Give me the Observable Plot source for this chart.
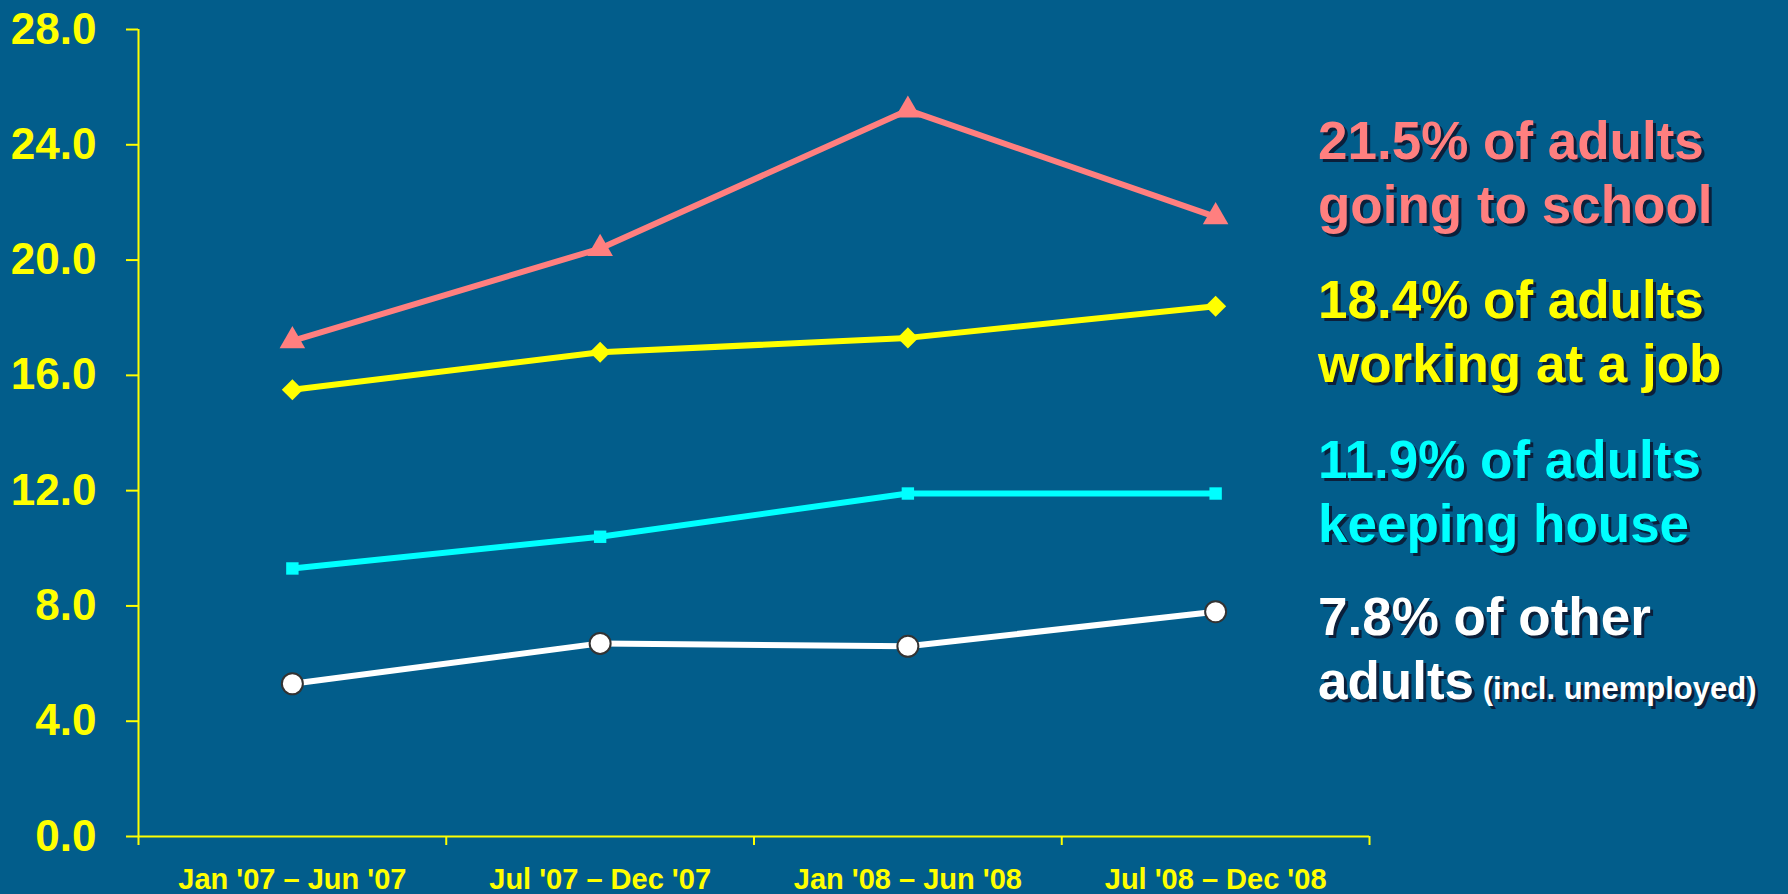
<!DOCTYPE html>
<html>
<head>
<meta charset="utf-8">
<script src="https://cdn.jsdelivr.net/npm/d3@7"></script>
<script src="https://cdn.jsdelivr.net/npm/@observablehq/plot@0.6"></script>
<style>
  html, body { margin: 0; padding: 0; background: #025d8b; }
  #wrap { position: relative; width: 1788px; height: 894px; overflow: hidden; }
  #legend { position: absolute; left: 1318px; top: 0; font-family: "Liberation Sans", Arial, sans-serif; font-weight: bold; }
  .blk { position: absolute; left: 0; white-space: nowrap; font-size: 53px; line-height: 64px; text-shadow: 3px 3px 0 #0b1f3a; }
  .small { font-size: 31px; }
</style>
</head>
<body>
<div id="wrap"><div id="chart"></div><div id="legend"></div></div>
<script>
const periods = ["Jan '07 – Jun '07", "Jul '07 – Dec '07", "Jan '08 – Jun '08", "Jul '08 – Dec '08"];
const school = [17.2, 20.4, 25.2, 21.5];
const job = [15.5, 16.8, 17.3, 18.4];
const house = [9.3, 10.4, 11.9, 11.9];
const other = [5.3, 6.7, 6.6, 7.8];
const yTicks = [0, 4, 8, 12, 16, 20, 24, 28];
const legendLines = [
  ["21.5% of adults", "going to school"],
  ["18.4% of adults", "working at a job"],
  ["11.9% of adults", "keeping house"],
  ["7.8% of other", "adults"]
];
const legendNote = "(incl. unemployed)";

const YEL = "#ffff00";
const series = [
  {values: school, color: "#ff7f7f", symbol: "triangle", r: 9.5, fill: "#ff7f7f", stroke: "none"},
  {values: job, color: YEL, symbol: "diamond2", r: 9.5, fill: YEL, stroke: "none"},
  {values: house, color: "#00ffff", symbol: "square", r: 7, fill: "#00ffff", stroke: "none"},
  {values: other, color: "#ffffff", symbol: "circle", r: 10.5, fill: "#ffffff", stroke: "#333333"}
];
const idx = periods.map((_, i) => i);
const bounds = [-0.5, 0.5, 1.5, 2.5, 3.5];

const marks = [
  Plot.ruleX([-0.5], {y1: 0, y2: 28, stroke: YEL, strokeWidth: 2}),
  Plot.ruleY([0], {x1: -0.5, x2: 3.5, stroke: YEL, strokeWidth: 2}),
  Plot.axisY({ticks: yTicks, tickSize: 12, tickPadding: 30, tickFormat: d => d.toFixed(1),
    stroke: YEL, fill: YEL, strokeWidth: 2, fontSize: 44, fontWeight: "bold",
    fontFamily: "'Liberation Sans', Arial, sans-serif"}),
  Plot.axisX({ticks: bounds, tickSize: 9, tickFormat: () => "", stroke: YEL, strokeWidth: 2}),
  Plot.axisX({ticks: idx, tickSize: 0, tickPadding: 32, tickFormat: i => periods[i],
    fill: YEL, fontSize: 29, fontWeight: "bold",
    fontFamily: "'Liberation Sans', Arial, sans-serif"})
];
for (const s of series) {
  marks.push(Plot.line(s.values, {x: (d, i) => i, y: d => d, stroke: s.color, strokeWidth: 6}));
}
for (const s of series) {
  marks.push(Plot.dot(s.values, {x: (d, i) => i, y: d => d, symbol: s.symbol, r: s.r,
    fill: s.fill, stroke: s.stroke, strokeWidth: 2}));
}

const chart = Plot.plot({
  width: 1788, height: 894,
  marginLeft: 138, marginRight: 419, marginTop: 29, marginBottom: 58,
  x: {domain: [-0.5, 3.5]},
  y: {domain: [0, 28]},
  style: {background: "#025d8b", color: YEL, overflow: "visible"},
  marks
});
document.getElementById("chart").appendChild(chart);

const tops = [109, 268, 428, 585];
const legend = document.getElementById("legend");
legendLines.forEach((lines, k) => {
  const d = document.createElement("div");
  d.className = "blk";
  d.style.top = tops[k] + "px";
  d.style.color = series[k].color;
  d.appendChild(document.createTextNode(lines[0]));
  d.appendChild(document.createElement("br"));
  d.appendChild(document.createTextNode(lines[1]));
  if (k === 3) {
    const sp = document.createElement("span");
    sp.className = "small";
    sp.textContent = " " + legendNote;
    d.appendChild(sp);
  }
  legend.appendChild(d);
});
</script>
</body>
</html>
